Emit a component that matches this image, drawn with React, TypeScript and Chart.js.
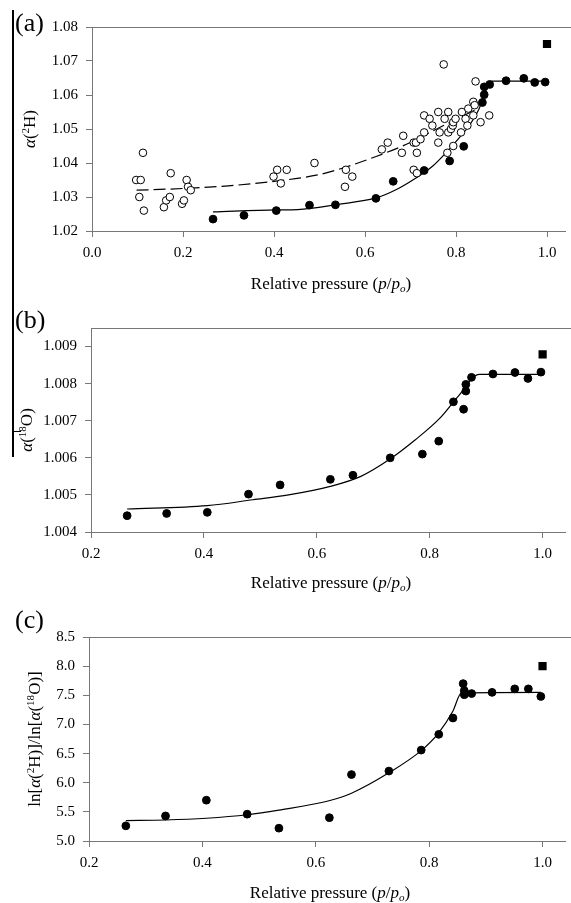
import React, { useEffect, useRef } from 'react';
import { Chart, registerables } from 'chart.js';
Chart.register(...registerables);

const FONT = '"Liberation Serif", "Times New Roman", serif';

// ---------- Panel (a) data ----------
const aFilledX = [0.266, 0.334, 0.405, 0.478, 0.535, 0.624, 0.662, 0.730, 0.786, 0.817, 0.858, 0.862, 0.862, 0.874, 0.910, 0.949, 0.973, 0.996];
const aFilledY = [1.0235, 1.0246, 1.0260, 1.0276, 1.0277, 1.0296, 1.0346, 1.0378, 1.0406, 1.0449, 1.0578, 1.0601, 1.0624, 1.0631, 1.0642, 1.0649, 1.0637, 1.0638];
const aOpenX = [0.097, 0.107, 0.112, 0.104, 0.114, 0.173, 0.158, 0.163, 0.171, 0.198, 0.202, 0.208, 0.211, 0.217, 0.399, 0.407, 0.415, 0.428, 0.489, 0.558, 0.556, 0.572, 0.637, 0.650, 0.684, 0.681, 0.707, 0.712, 0.714, 0.707, 0.714, 0.722, 0.730, 0.730, 0.742, 0.748, 0.761, 0.761, 0.764, 0.773, 0.775, 0.783, 0.783, 0.781, 0.789, 0.793, 0.794, 0.799, 0.794, 0.811, 0.813, 0.821, 0.825, 0.827, 0.838, 0.838, 0.841, 0.843, 0.854, 0.873];
const aOpenY = [1.035, 1.035, 1.043, 1.030, 1.026, 1.037, 1.027, 1.029, 1.030, 1.028, 1.029, 1.035, 1.033, 1.032, 1.036, 1.038, 1.034, 1.038, 1.040, 1.038, 1.033, 1.036, 1.044, 1.046, 1.048, 1.043, 1.046, 1.046, 1.043, 1.038, 1.037, 1.047, 1.049, 1.054, 1.053, 1.051, 1.055, 1.046, 1.049, 1.069, 1.053, 1.055, 1.049, 1.043, 1.050, 1.051, 1.052, 1.053, 1.045, 1.049, 1.055, 1.053, 1.051, 1.056, 1.054, 1.058, 1.057, 1.064, 1.052, 1.054];
const aSquareX = [1.0];
const aSquareY = [1.075];
const aSolidX = [0.266, 0.405, 0.452, 0.539, 0.626, 0.669, 0.712, 0.749, 0.778, 0.807, 0.828, 0.850, 0.868, 0.879, 0.996];
const aSolidY = [1.0256, 1.0262, 1.0263, 1.0278, 1.0298, 1.0322, 1.0356, 1.0391, 1.0430, 1.0474, 1.0508, 1.0557, 1.0621, 1.0641, 1.0641];
const aDashX = [0.098, 0.2, 0.3, 0.4, 0.5, 0.553, 0.626, 0.691, 0.741, 0.792, 0.845];
const aDashY = [1.0320, 1.0325, 1.0333, 1.0346, 1.0366, 1.0386, 1.0420, 1.0455, 1.0489, 1.0523, 1.0558];
const aXTicks = [0, 0.2, 0.4, 0.6, 0.8, 1.0];
const aXTickLabels = ['0.0', '0.2', '0.4', '0.6', '0.8', '1.0'];
const aYTicks = [1.02, 1.03, 1.04, 1.05, 1.06, 1.07, 1.08];
const aYTickLabels = ['1.02', '1.03', '1.04', '1.05', '1.06', '1.07', '1.08'];

// ---------- Panel (b) data ----------
const bFilledX = [0.264, 0.334, 0.406, 0.479, 0.535, 0.624, 0.664, 0.730, 0.787, 0.816, 0.842, 0.860, 0.864, 0.864, 0.874, 0.912, 0.951, 0.974, 0.997];
const bFilledY = [1.00444, 1.0045, 1.00453, 1.00502, 1.00527, 1.00542, 1.00553, 1.0060, 1.0061, 1.00645, 1.00751, 1.00731, 1.00798, 1.0078, 1.00817, 1.00826, 1.0083, 1.00814, 1.00831];
const bSquareX = [1.0];
const bSquareY = [1.00879];
const bCurveX = [0.264, 0.406, 0.487, 0.55, 0.624, 0.678, 0.729, 0.774, 0.818, 0.85, 0.888, 0.997];
const bCurveY = [1.00462, 1.00471, 1.00487, 1.0050, 1.00523, 1.0055, 1.00596, 1.00648, 1.00707, 1.00765, 1.00825, 1.00825];
const bXTicks = [0.2, 0.4, 0.6, 0.8, 1.0];
const bXTickLabels = ['0.2', '0.4', '0.6', '0.8', '1.0'];
const bYTicks = [1.004, 1.005, 1.006, 1.007, 1.008, 1.009];
const bYTickLabels = ['1.004', '1.005', '1.006', '1.007', '1.008', '1.009'];

// ---------- Panel (c) data ----------
const cFilledX = [0.265, 0.335, 0.407, 0.479, 0.535, 0.624, 0.663, 0.729, 0.786, 0.817, 0.842, 0.860, 0.862, 0.862, 0.875, 0.911, 0.951, 0.975, 0.997];
const cFilledY = [5.26, 5.43, 5.70, 5.46, 5.22, 5.40, 6.14, 6.20, 6.56, 6.83, 7.11, 7.70, 7.58, 7.51, 7.53, 7.55, 7.61, 7.61, 7.48];
const cSquareX = [1.0];
const cSquareY = [8.0];
const cCurveX = [0.265, 0.335, 0.407, 0.479, 0.535, 0.6235, 0.663, 0.729, 0.786, 0.8165, 0.842, 0.857, 0.997];
const cCurveY = [5.35, 5.36, 5.39, 5.45, 5.53, 5.69, 5.82, 6.17, 6.55, 6.85, 7.23, 7.54, 7.55];
const cXTicks = [0.2, 0.4, 0.6, 0.8, 1.0];
const cXTickLabels = ['0.2', '0.4', '0.6', '0.8', '1.0'];
const cYTicks = [5.0, 5.5, 6.0, 6.5, 7.0, 7.5, 8.0, 8.5];
const cYTickLabels = ['5.0', '5.5', '6.0', '6.5', '7.0', '7.5', '8.0', '8.5'];

const zip = (xs: number[], ys: number[]) => xs.map((x, i) => ({ x, y: ys[i] }));

const filled = (xs: number[], ys: number[]) => ({
  data: zip(xs, ys), showLine: false, pointRadius: 3.9, pointBackgroundColor: '#000',
  pointBorderColor: '#000', pointBorderWidth: 1, order: 2,
});
const open = (xs: number[], ys: number[]) => ({
  data: zip(xs, ys), showLine: false, pointRadius: 3.8, pointBackgroundColor: '#fff',
  pointBorderColor: '#000', pointBorderWidth: 1, order: 3,
});
const square = (xs: number[], ys: number[]) => ({
  data: zip(xs, ys), showLine: false, pointStyle: 'rect', pointRadius: 5.8, pointBackgroundColor: '#000',
  pointBorderColor: '#000', pointBorderWidth: 0, order: 1,
});
const curve = (xs: number[], ys: number[], dash: number[] = []) => ({
  data: zip(xs, ys), showLine: true, pointRadius: 0, borderColor: '#000', borderWidth: 1.2,
  borderDash: dash, cubicInterpolationMode: 'monotone', fill: false, order: 4,
});

const topBorder = {
  id: 'topBorder',
  afterDraw(chart: any) {
    const { ctx, chartArea } = chart;
    ctx.save();
    ctx.strokeStyle = '#777';
    ctx.lineWidth = 1;
    ctx.beginPath();
    ctx.moveTo(chartArea.left, Math.round(chartArea.top) + 0.5);
    ctx.lineTo(chart.width, Math.round(chartArea.top) + 0.5);
    ctx.stroke();
    ctx.restore();
  },
};

type Spec = {
  height: number; left: number; top: number; bottom: number;
  xMin: number; xMax: number; yMin: number; yMax: number;
  xTicks: number[]; xTickLabels: string[]; yTicks: number[]; yTickLabels: string[];
  datasets: any[]; xPad: number; yPad: number;
};

function Panel({ spec, offset }: { spec: Spec; offset: number }) {
  const ref = useRef<HTMLCanvasElement>(null);
  useEffect(() => {
    const canvas = ref.current!;
    const tickFont = { family: FONT, size: 15 };
    const chart = new Chart(canvas, {
      type: 'scatter',
      data: { datasets: spec.datasets },
      options: {
        animation: false, responsive: false, devicePixelRatio: 1,
        layout: { padding: { top: spec.top, left: 0, right: 0, bottom: 0 } },
        plugins: { legend: { display: false }, tooltip: { enabled: false }, title: { display: false } },
        scales: {
          x: {
            type: 'linear', min: spec.xMin, max: spec.xMax,
            afterBuildTicks: (s: any) => { s.ticks = spec.xTicks.map((v) => ({ value: v })); },
            afterFit: (s: any) => { s.height = spec.height - spec.bottom; },
            ticks: { callback: (_v: any, i: number) => spec.xTickLabels[i], font: tickFont, color: '#000', padding: spec.xPad, maxRotation: 0, autoSkip: false },
            grid: { drawOnChartArea: false, drawTicks: true, tickLength: 6, color: '#777', lineWidth: 1 },
            border: { display: true, color: '#777', width: 1 },
          },
          y: {
            type: 'linear', min: spec.yMin, max: spec.yMax,
            afterBuildTicks: (s: any) => { s.ticks = spec.yTicks.map((v) => ({ value: v })); },
            afterFit: (s: any) => { s.width = spec.left; },
            ticks: { callback: (_v: any, i: number) => spec.yTickLabels[i], font: tickFont, color: '#000', padding: spec.yPad, autoSkip: false },
            grid: { drawOnChartArea: false, drawTicks: true, tickLength: 6, color: '#777', lineWidth: 1 },
            border: { display: true, color: '#777', width: 1 },
          },
        },
      } as any,
      plugins: [topBorder],
    });
    return () => chart.destroy();
  }, []);
  return (
    <canvas ref={ref} width={571} height={spec.height}
      style={{ position: 'absolute', left: 0, top: offset, width: 571, height: spec.height }} />
  );
}

const sup: React.CSSProperties = { fontSize: '0.65em', position: 'relative', top: '-0.55em' };
const sub: React.CSSProperties = { fontSize: '0.65em', position: 'relative', top: '0.3em' };

function XTitle({ cx, top }: { cx: number; top: number }) {
  return (
    <div style={{ position: 'absolute', left: cx, top, transform: 'translateX(-50%)', fontFamily: FONT, fontSize: 17, lineHeight: '17px', whiteSpace: 'nowrap', color: '#000' }}>
      Relative pressure (<i>p</i>/<i>p</i><span style={sub}><i>o</i></span>)
    </div>
  );
}

function YTitle({ cx, cy, children }: { cx: number; cy: number; children: React.ReactNode }) {
  return (
    <div style={{ position: 'absolute', left: cx, top: cy, transform: 'translate(-50%, -50%) rotate(-90deg)', fontFamily: FONT, fontSize: 17, lineHeight: '17px', whiteSpace: 'nowrap', color: '#000' }}>
      {children}
    </div>
  );
}

function PanelLabel({ text, top }: { text: string; top: number }) {
  return (
    <div style={{ position: 'absolute', left: 15, top, fontFamily: FONT, fontSize: 26, lineHeight: '26px', color: '#000' }}>{text}</div>
  );
}

export default function App() {
  const specA: Spec = {
    height: 300, left: 92, top: 27, bottom: 231,
    xMin: 0, xMax: 1.04, yMin: 1.02, yMax: 1.08,
    xTicks: aXTicks, xTickLabels: aXTickLabels, yTicks: aYTicks, yTickLabels: aYTickLabels,
    xPad: 7, yPad: 8,
    datasets: [
      square(aSquareX, aSquareY), filled(aFilledX, aFilledY), open(aOpenX, aOpenY),
      curve(aSolidX, aSolidY), curve(aDashX, aDashY, [12, 5]),
    ],
  };
  const specB: Spec = {
    height: 300, left: 91, top: 28, bottom: 232,
    xMin: 0.2, xMax: 1.04, yMin: 1.004, yMax: 1.0095,
    xTicks: bXTicks, xTickLabels: bXTickLabels, yTicks: bYTicks, yTickLabels: bYTickLabels,
    xPad: 7, yPad: 8,
    datasets: [square(bSquareX, bSquareY), filled(bFilledX, bFilledY), curve(bCurveX, bCurveY)],
  };
  const specC: Spec = {
    height: 303, left: 89, top: 37, bottom: 241,
    xMin: 0.2, xMax: 1.04, yMin: 5.0, yMax: 8.5,
    xTicks: cXTicks, xTickLabels: cXTickLabels, yTicks: cYTicks, yTickLabels: cYTickLabels,
    xPad: 7, yPad: 8,
    datasets: [square(cSquareX, cSquareY), filled(cFilledX, cFilledY), curve(cCurveX, cCurveY)],
  };
  return (
    <div style={{ position: 'absolute', left: 0, top: 0, width: 571, height: 903, overflow: 'hidden', background: '#fff' }}>
      <Panel spec={specA} offset={0} />
      <Panel spec={specB} offset={300} />
      <Panel spec={specC} offset={600} />
      <div style={{ position: 'absolute', left: 12, top: 10, width: 1.5, height: 447, background: '#000' }} />
      <div style={{ position: 'absolute', left: 13, top: 431, width: 8, height: 1, background: '#000' }} />
      <PanelLabel text="(a)" top={10} />
      <PanelLabel text="(b)" top={307} />
      <PanelLabel text="(c)" top={607} />
      <XTitle cx={331} top={275} />
      <XTitle cx={331} top={574} />
      <XTitle cx={330} top={884} />
      <YTitle cx={30} cy={129}><i>α</i>(<span style={sup}>2</span>H)</YTitle>
      <YTitle cx={27} cy={430}><i>α</i>(<span style={sup}>18</span>O)</YTitle>
      <YTitle cx={35} cy={739}>ln[<i>α</i>(<span style={sup}>2</span>H)]/ln[<i>α</i>(<span style={sup}>18</span>O)]</YTitle>
    </div>
  );
}
